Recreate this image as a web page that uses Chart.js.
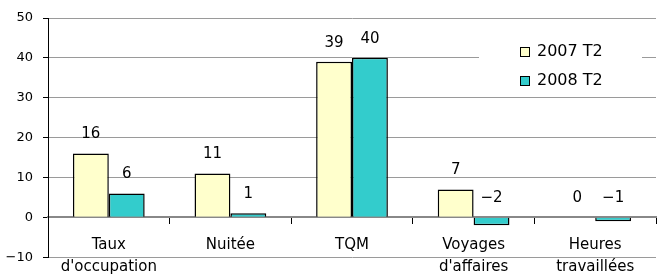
<!DOCTYPE html>
<html>
<head>
<meta charset="utf-8">
<script src="https://cdn.jsdelivr.net/npm/chart.js@4"></script>
<style>
  html, body { margin: 0; padding: 0; background: #fff; }
  #wrap { width: 657px; height: 275px; }
</style>
</head>
<body>
<div id="wrap"><canvas id="myChart"></canvas></div>
<script>
// données
const categories = [['Taux', "d'occupation"], ['Nuitée'], ['TQM'], ['Voyages', "d'affaires"], ['Heures', 'travaillées']];
const seriesNames = ['2007 T2', '2008 T2'];
const values2007 = [16, 11, 39, 7, 0];
const values2008 = [6, 1, 40, -2, -1];
const yTicks = [-10, 0, 10, 20, 30, 40, 50];

const fmt = v => (v < 0 ? '\u2212' + Math.abs(v) : String(v));

// étiquettes au-dessus des barres
const barLabels = {
  id: 'barLabels',
  afterDatasetsDraw(chart) {
    const ctx = chart.ctx;
    const y = chart.scales.y;
    ctx.save();
    ctx.font = '15px "DejaVu Sans"';
    ctx.fillStyle = '#000';
    ctx.textAlign = 'center';
    ctx.textBaseline = 'middle';
    chart.data.datasets.forEach((ds, i) => {
      chart.getDatasetMeta(i).data.forEach((bar, j) => {
        const v = ds.data[j];
        ctx.fillText(fmt(v), bar.x, y.getPixelForValue(Math.max(v, 0)) - 19);
      });
    });
    ctx.restore();
  }
};

// légende dans la zone du graphique
const boxLegend = {
  id: 'boxLegend',
  afterDraw(chart) {
    const ctx = chart.ctx;
    ctx.save();
    ctx.fillStyle = '#fff';
    ctx.fillRect(479, 30, 163, 60);
    ctx.font = '16px "DejaVu Sans"';
    ctx.textBaseline = 'middle';
    chart.data.datasets.forEach((ds, i) => {
      const cy = 52 + i * 29;
      ctx.fillStyle = ds.backgroundColor;
      ctx.fillRect(520.5, cy - 4.5, 9, 9);
      ctx.strokeStyle = '#000';
      ctx.lineWidth = 1;
      ctx.strokeRect(520.5, cy - 4.5, 9, 9);
      ctx.fillStyle = '#000';
      ctx.fillText(ds.label, 537, cy);
    });
    ctx.restore();
  }
};

const ctx = document.getElementById('myChart').getContext('2d');
const myChart = new Chart(ctx, {
  type: 'bar',
  data: {
    labels: categories,
    datasets: [{
      label: seriesNames[0],
      data: values2007,
      backgroundColor: '#FFFFCC',
      borderColor: '#000',
      borderWidth: 1.5
    }, {
      label: seriesNames[1],
      data: values2008,
      backgroundColor: '#33CCCC',
      borderColor: '#000',
      borderWidth: 1.5
    }]
  },
  options: {
    responsive: true,
    maintainAspectRatio: false,
    animation: false,
    categoryPercentage: 0.59,
    barPercentage: 1,
    layout: { padding: { top: 18, right: 1, bottom: 16, left: 0 } },
    plugins: {
      legend: { display: false },
      tooltip: { enabled: false }
    },
    scales: {
      x: {
        position: { y: 0 },
        offset: true,
        grid: {
          offset: true,
          drawOnChartArea: false,
          drawTicks: true,
          tickLength: 6,
          color: '#000'
        },
        border: { display: true, color: '#888', width: 2 },
        ticks: {
          color: '#000',
          padding: 11,
          font: { family: 'DejaVu Sans', size: 15, lineHeight: 1.45 }
        }
      },
      y: {
        min: -10,
        max: 50,
        afterFit: s => { s.width = 48; },
        afterBuildTicks: s => { s.ticks = yTicks.map(v => ({ value: v })); },
        grid: {
          color: '#9a9a9a',
          tickColor: '#000',
          tickLength: 5,
          drawTicks: true
        },
        border: { display: true, color: '#000', width: 1 },
        ticks: {
          color: '#000',
          padding: 10,
          font: { family: 'DejaVu Sans', size: 13 },
          callback: v => fmt(v)
        }
      }
    }
  },
  plugins: [barLabels, boxLegend]
});
</script>
</body>
</html>
